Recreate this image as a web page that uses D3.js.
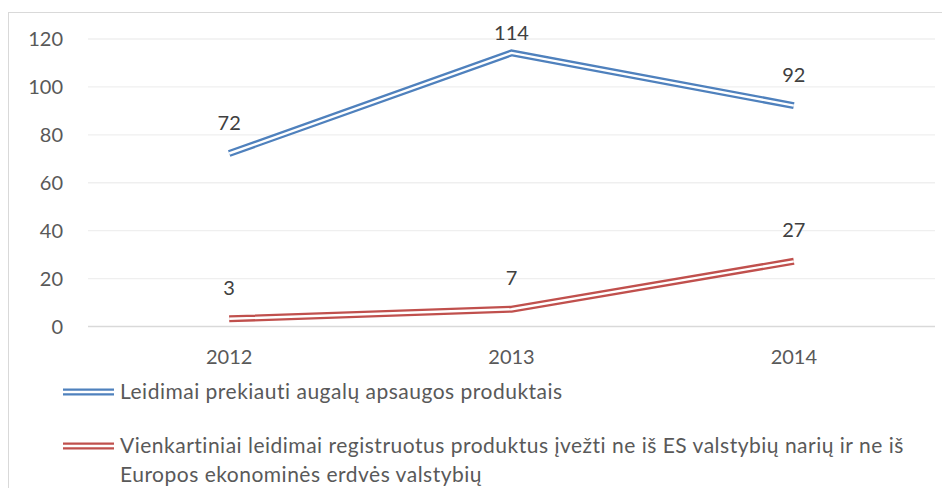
<!DOCTYPE html>
<html><head><meta charset="utf-8">
<script src="https://cdn.jsdelivr.net/npm/d3@7"></script>
<style>body{margin:0;background:#fff;}svg{display:block;font-family:Lato,"Open Sans",sans-serif;}</style>
</head><body>
<script>
const categories = ["2012","2013","2014"];
const seriesNames = [
  "Leidimai prekiauti augalų apsaugos produktais",
  "Vienkartiniai leidimai registruotus produktus įvežti ne iš ES valstybių narių ir ne iš|Europos ekonominės erdvės valstybių"
];
const seriesA = [72,114,92];
const seriesB = [3,7,27];
const yTicks = [0,20,40,60,80,100,120];
const colors = ["#4F81BD","#C0504D"];

const W=942,H=488;
const svg=d3.select("body").append("svg").attr("width",W).attr("height",H);
svg.append("rect").attr("x",8.5).attr("y",12.5).attr("width",W).attr("height",H).attr("fill","#fff").attr("stroke","#d9d9d9").attr("stroke-width",1);

const x=d3.scaleBand().domain(categories).range([88,935]);
const y=d3.scaleLinear().domain([0,120]).range([326,38.5]);

const yAxis=svg.append("g").attr("transform","translate(88,0)")
  .call(d3.axisLeft(y).tickValues(yTicks).tickSize(-(935-88)).tickPadding(25));
yAxis.select(".domain").remove();
yAxis.selectAll(".tick line").attr("stroke",d=>d===0?"#d9d9d9":"#efefef").attr("stroke-width",1.3);
yAxis.selectAll(".tick text").attr("fill","#595959").attr("font-size",20).attr("font-family","Lato").attr("dy","0.35em");

const xAxis=svg.append("g").attr("transform","translate(0,326)")
  .call(d3.axisBottom(x).tickSize(0).tickPadding(0));
xAxis.select(".domain").remove();
xAxis.selectAll(".tick text").attr("fill","#595959").attr("font-size",20).attr("font-family","Lato").attr("dy","0").attr("y",38);

const line=d3.line().x((d,i)=>x(categories[i])+x.bandwidth()/2).y(d=>y(d));
[seriesA,seriesB].forEach((s,k)=>{
  svg.append("path").datum(s).attr("d",line).attr("fill","none").attr("stroke",colors[k]).attr("stroke-width",7).attr("stroke-linejoin","miter");
  svg.append("path").datum(s).attr("d",line).attr("fill","none").attr("stroke","#fff").attr("stroke-width",2.4).attr("stroke-linejoin","miter");
  svg.append("g").selectAll("text").data(s).join("text")
    .attr("x",(d,i)=>x(categories[i])+x.bandwidth()/2)
    .attr("y",d=>Math.max(y(d)-31,33))
    .attr("dy","0.35em").attr("text-anchor","middle")
    .attr("fill","#404040").attr("font-size",20).text(d=>d);
});

// legend
const legY=[392,446];
seriesNames.forEach((n,k)=>{
  const g=svg.append("g");
  g.append("line").attr("x1",63).attr("x2",114).attr("y1",legY[k]).attr("y2",legY[k]).attr("stroke",colors[k]).attr("stroke-width",7);
  g.append("line").attr("x1",63).attr("x2",114).attr("y1",legY[k]).attr("y2",legY[k]).attr("stroke","#fff").attr("stroke-width",2.4);
  n.split("|").forEach((t,j)=>{
    g.append("text").attr("x",120).attr("y",legY[k]+j*29).attr("dy","0.35em").attr("fill","#595959")
      .attr("font-size",21).attr("letter-spacing",0.5).text(t);
  });
});
</script>
</body></html>
